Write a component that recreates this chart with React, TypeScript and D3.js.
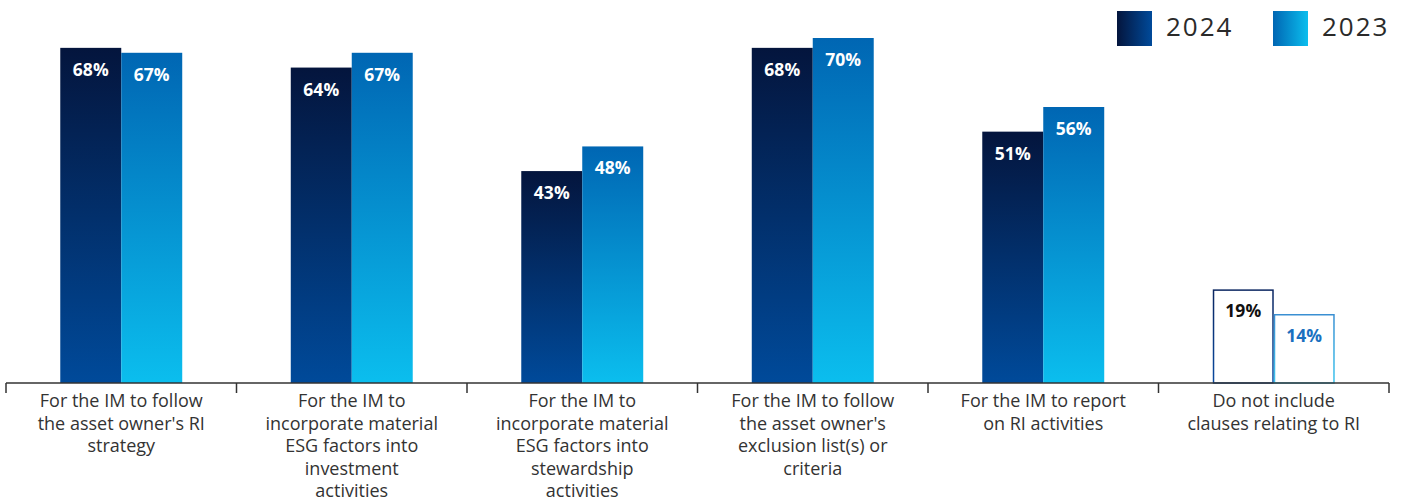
import React from "react";
import * as d3 from "d3";

const categories: string[][] = [
  ["For the IM to follow", "the asset owner's RI", "strategy"],
  ["For the IM to", "incorporate material", "ESG factors into", "investment", "activities"],
  ["For the IM to", "incorporate material", "ESG factors into", "stewardship", "activities"],
  ["For the IM to follow", "the asset owner's", "exclusion list(s) or", "criteria"],
  ["For the IM to report", "on RI activities"],
  ["Do not include", "clauses relating to RI"],
];
const series = ["2024", "2023"];
const values2024 = [68, 64, 43, 68, 51, 19];
const values2023 = [67, 67, 48, 70, 56, 14];
const outlined = [false, false, false, false, false, true];

const W = 1403;
const H = 497;
const FONT = "'Open Sans', sans-serif";

export default function App() {
  const idx = categories.map((_, i) => String(i));
  const x = d3.scaleBand<string>().domain(idx).range([6, 1389]).padding(0);
  const sub = d3.scaleBand<string>().domain(series).range([0, x.bandwidth()]).paddingInner(0).paddingOuter(0.89);
  const y = d3.scaleLinear().domain([0, 70]).range([383, 38]);
  const base = y(0);

  const ticks = [...idx.map((k) => x(k)!), 1389];

  return (
    <svg width={W} height={H} style={{ position: "absolute", left: 0, top: 0 }} fontFamily={FONT}>
      <defs>
        <linearGradient id="g24" x1="0" y1="0" x2="0" y2="1">
          <stop offset="0" stopColor="#04153d" />
          <stop offset="1" stopColor="#004a9a" />
        </linearGradient>
        <linearGradient id="g23" x1="0" y1="0" x2="0" y2="1">
          <stop offset="0" stopColor="#0066b3" />
          <stop offset="1" stopColor="#0bbeee" />
        </linearGradient>
        <linearGradient id="l24" x1="0" y1="0" x2="1" y2="0">
          <stop offset="0" stopColor="#04153d" />
          <stop offset="1" stopColor="#004a9a" />
        </linearGradient>
        <linearGradient id="l23" x1="0" y1="0" x2="1" y2="0">
          <stop offset="0" stopColor="#0066b3" />
          <stop offset="1" stopColor="#0bbeee" />
        </linearGradient>
        <linearGradient id="o24" x1="0" y1="0" x2="0" y2="1">
          <stop offset="0" stopColor="#0a2560" />
          <stop offset="1" stopColor="#0a4aa0" />
        </linearGradient>
        <linearGradient id="o23" x1="0" y1="0" x2="0" y2="1">
          <stop offset="0" stopColor="#3a8fd2" />
          <stop offset="1" stopColor="#3cc4ee" />
        </linearGradient>
      </defs>

      {idx.map((k, i) => {
        const gx = x(k)!;
        const vals = [values2024[i], values2023[i]];
        return (
          <g key={k}>
            {series.map((s, j) => {
              const v = vals[j];
              const bx = gx + sub(s)!;
              const bw = sub.bandwidth();
              const by = y(v);
              const bh = base - by;
              const isOut = outlined[i];
              const textFill = isOut ? (j === 0 ? "#111111" : "#1a70bf") : "#ffffff";
              return (
                <g key={s}>
                  {isOut ? (
                    <rect x={bx + 0.75} y={by + 0.75} width={bw - 1.5} height={bh - 0.75} fill="#ffffff" stroke={j === 0 ? "url(#o24)" : "url(#o23)"} strokeWidth={1.5} />
                  ) : (
                    <rect x={bx} y={by} width={bw} height={bh} fill={j === 0 ? "url(#g24)" : "url(#g23)"} />
                  )}
                  <text x={bx + bw / 2} y={by + 28} textAnchor="middle" fontSize={17.5} fontWeight={700} fill={textFill}>
                    {v}%
                  </text>
                </g>
              );
            })}
            {categories[i].map((line, li) => (
              <text key={li} x={gx + x.bandwidth() / 2} y={407 + li * 22.5} textAnchor="middle" fontSize={18} fill="#333333">
                {line}
              </text>
            ))}
          </g>
        );
      })}

      <line x1={6} x2={1389} y1={base} y2={base} stroke="#333333" strokeWidth={1.5} />
      {ticks.map((t, i) => (
        <line key={i} x1={t} x2={t} y1={base} y2={base + 10} stroke="#333333" strokeWidth={1.5} />
      ))}

      <g>
        <rect x={1117} y={11} width={35} height={35} fill="url(#l24)" />
        <text x={1166} y={36} fontSize={26} letterSpacing={2} fill="#2a2a2a" fontWeight={400}>2024</text>
        <rect x={1273} y={11} width={35} height={35} fill="url(#l23)" />
        <text x={1322} y={36} fontSize={26} letterSpacing={2} fill="#2a2a2a" fontWeight={400}>2023</text>
      </g>
    </svg>
  );
}
